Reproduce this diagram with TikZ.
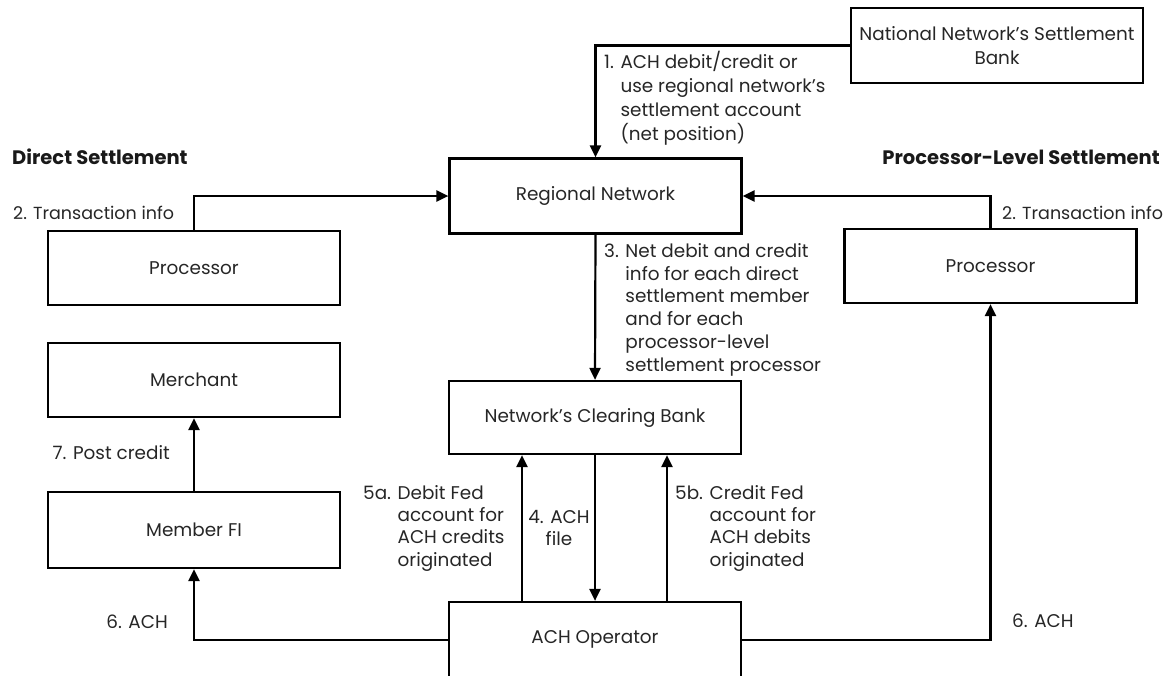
\documentclass[tikz,border=0pt]{standalone}
\usepackage{fontspec}
\setmainfont{Poppins}
\usetikzlibrary{arrows.meta,calc}
\newcommand\fsz{\fontsize{18.4}{24}\selectfont}
\begin{document}
\begin{tikzpicture}[x=1pt,y=-1pt,
  box/.style={draw,line width=2.2pt,minimum width=292pt,minimum height=75pt,inner sep=0pt,font=\fsz,text=black!85,align=center},
  arr/.style={line width=2.2pt,-{Triangle[length=12pt,width=11pt]}},
  lbl/.style={inner sep=0pt,font=\fsz,align=left,text=black!85},
  head/.style={inner sep=0pt,font=\fontsize{19.5}{24}\selectfont\bfseries,text=black!90}]
\useasboundingbox (0,0) rectangle (1170,675);
% boxes
\node[box] (nat) at (997,45.5) {National Network’s Settlement\\Bank};
\node[box] (reg) at (595.5,196) {Regional Network};
\node[box,minimum height=74pt] (procL) at (194,268) {Processor};
\node[box,minimum height=74pt] (procR) at (990.5,266) {Processor};
\node[box,minimum height=74pt] (merch) at (194,380) {Merchant};
\node[box,minimum height=73pt] (clear) at (595,417.5) {Network’s Clearing Bank};
\node[box,minimum height=76pt] (fi) at (194,530) {Member FI};
\node[box,minimum height=88pt] (ach) at (595,646) {};
\node[inner sep=0pt,font=\fsz,text=black!85] (achtext) at (595,639) {ACH Operator};
% helper coordinates
\coordinate (x5a) at (522,0);
\coordinate (x5b) at (667,0);
\coordinate (y6) at (0,640);
% connectors
\draw[arr] (nat.west) -| (reg.north);
\draw[arr] (procL.north) |- (reg.west);
\draw[arr] (procR.north) |- (reg.east);
\draw[arr] (reg.south) -- (clear.north);
\draw[arr] (clear.south) -- (ach.north);
\draw[arr] (ach.north -| x5a) -- (clear.south -| x5a);
\draw[arr] (ach.north -| x5b) -- (clear.south -| x5b);
\draw[arr] (ach.west |- y6) -| (fi.south);
\draw[arr] (ach.east |- y6) -| (procR.south);
\draw[arr] (fi.north) -- (merch.south);
% labels
\node[head,anchor=west] (h1) at (12,157) {Direct Settlement};
\node[head,anchor=east] (h2) at (1160,157) {Processor-Level Settlement};
\node[lbl,anchor=west,font=\fontsize{17.5}{22}\selectfont] (t2L) at (13,213) {2. Transaction info};
\node[lbl,anchor=west,font=\fontsize{17.5}{22}\selectfont] (t2R) at (1002,213) {2. Transaction info};
\node[lbl,anchor=north west] (t1) at (604,51) {1. ACH debit/credit or\\\phantom{1. }use regional network’s\\\phantom{1. }settlement account\\\phantom{1. }(net position)};
\node[lbl,anchor=north west,font=\fontsize{18.4}{22.8}\selectfont] (t3) at (604,243) {3. Net debit and credit\\\phantom{3. }info for each direct\\\phantom{3. }settlement member\\\phantom{3. }and for each\\\phantom{3. }processor-level\\\phantom{3. }settlement processor};
\node[lbl,anchor=north west,font=\fontsize{18.4}{22.3}\selectfont] (t5a) at (363,485) {5a. Debit Fed\\\phantom{5a. }account for\\\phantom{5a. }ACH credits\\\phantom{5a. }originated};
\node[lbl,anchor=north west,font=\fontsize{18.4}{22.3}\selectfont] (t5b) at (675,485) {5b. Credit Fed\\\phantom{5b. }account for\\\phantom{5b. }ACH debits\\\phantom{5b. }originated};
\node[lbl,align=center,font=\fontsize{18.4}{22}\selectfont] (t4) at (559,528) {4. ACH\\file};
\node[lbl,anchor=east] (t7) at (170,453) {7. Post credit};
\node[lbl,anchor=east] (t6L) at (168,622) {6. ACH};
\node[lbl,anchor=west] (t6R) at (1012,621) {6. ACH};
\end{tikzpicture}
\end{document}
